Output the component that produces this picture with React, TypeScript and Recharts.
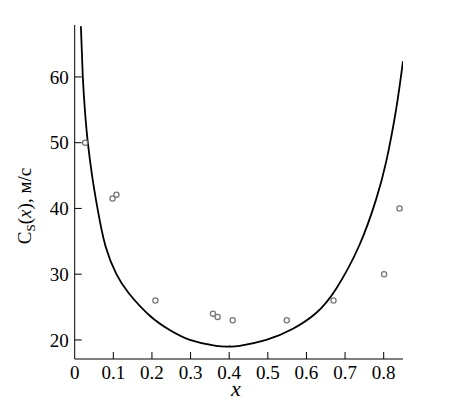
import React from 'react';
import { ComposedChart, Line, Scatter, XAxis, YAxis } from 'recharts';

const curveX = [0.016, 0.021, 0.027, 0.034, 0.045, 0.059, 0.08, 0.108, 0.14, 0.196, 0.246, 0.298, 0.366, 0.4, 0.427, 0.496, 0.565, 0.625, 0.677, 0.737, 0.78, 0.806, 0.832, 0.85];
const curveY = [67.7, 60, 54.5, 50, 45, 40, 34.2, 30, 27.1, 23.6, 21.5, 20.0, 19.1, 19.0, 19.1, 20.0, 21.7, 24.1, 27.8, 34.4, 41.3, 47.0, 55.0, 62.4];

const pointX = [0.027, 0.098, 0.108, 0.209, 0.358, 0.37, 0.409, 0.549, 0.67, 0.801, 0.841];
const pointY = [50, 41.5, 42.1, 26, 24, 23.5, 23, 23, 26, 30, 40];

const xTicks = [0, 0.1, 0.2, 0.3, 0.4, 0.5, 0.6, 0.7, 0.8];
const xTickLabels = ['0', '0.1', '0.2', '0.3', '0.4', '0.5', '0.6', '0.7', '0.8'];
const yTicks = [20, 30, 40, 50, 60];

const curveData = curveX.map((x, i) => ({ x, y: curveY[i] }));
const pointData = pointX.map((x, i) => ({ x, y: pointY[i] }));

const FONT = '"Liberation Serif", "Times New Roman", serif';

const XTick = (props: any) => {
  const { x, y, payload } = props;
  const v = payload.value;
  const idx = xTicks.indexOf(v);
  return (
    <g>
      {v !== 0 && <line x1={x} x2={x} y1={y} y2={y - 7} stroke="#000" strokeWidth={1} />}
      <text x={x} y={y + 20} textAnchor="middle" fontFamily={FONT} fontSize={19} fill="#000">
        {idx >= 0 ? xTickLabels[idx] : String(v)}
      </text>
    </g>
  );
};

const YTick = (props: any) => {
  const { x, y, payload } = props;
  return (
    <g>
      <line x1={x} x2={x + 7} y1={y} y2={y} stroke="#000" strokeWidth={1} />
      <text x={x - 6} y={y} dy="0.35em" textAnchor="end" fontFamily={FONT} fontSize={19} fill="#000">
        {payload.value}
      </text>
    </g>
  );
};

const XLabel = () => (
  <text x={228} y={388} textAnchor="middle" fontFamily={FONT} fontStyle="italic" fontSize={22} fill="#000">
    x
  </text>
);

const YLabel = () => (
  <text
    transform="translate(23,198) rotate(-90)"
    textAnchor="middle"
    fontFamily={FONT}
    fontSize={19}
    fill="#000"
  >
    C<tspan dy={4} fontSize={13}>S</tspan>
    <tspan dy={-4}>(</tspan>
    <tspan fontStyle="italic">x</tspan>
    <tspan>), м/с</tspan>
  </text>
);

const Dot = (p: any) => (
  <circle cx={p.cx} cy={p.cy} r={2.6} fill="none" stroke="#777" strokeWidth={1.3} />
);

export default function App() {
  return (
    <div style={{ width: 445, height: 392, background: '#fff' }}>
      <ComposedChart width={445} height={392} margin={{ top: 17, right: 50, left: 0, bottom: 0 }}>
        <XAxis
          type="number"
          dataKey="x"
          domain={[0, 0.85]}
          ticks={xTicks}
          interval={0}
          allowDataOverflow
          tick={<XTick />}
          tickLine={false}
          tickSize={0}
          tickMargin={0}
          axisLine={{ stroke: '#000', strokeWidth: 1 }}
          height={41}
          label={<XLabel />}
        />
        <YAxis
          type="number"
          dataKey="y"
          domain={[17.1, 67.9]}
          ticks={yTicks}
          interval={0}
          allowDataOverflow
          tick={<YTick />}
          tickLine={false}
          tickSize={0}
          tickMargin={0}
          axisLine={{ stroke: '#000', strokeWidth: 1 }}
          width={66.7}
          label={<YLabel />}
        />
        <Scatter data={pointData} dataKey="y" shape={<Dot />} isAnimationActive={false} />
        <Line
          data={curveData}
          dataKey="y"
          type="natural"
          dot={false}
          stroke="#000"
          strokeWidth={1.8}
          isAnimationActive={false}
        />
      </ComposedChart>
    </div>
  );
}
